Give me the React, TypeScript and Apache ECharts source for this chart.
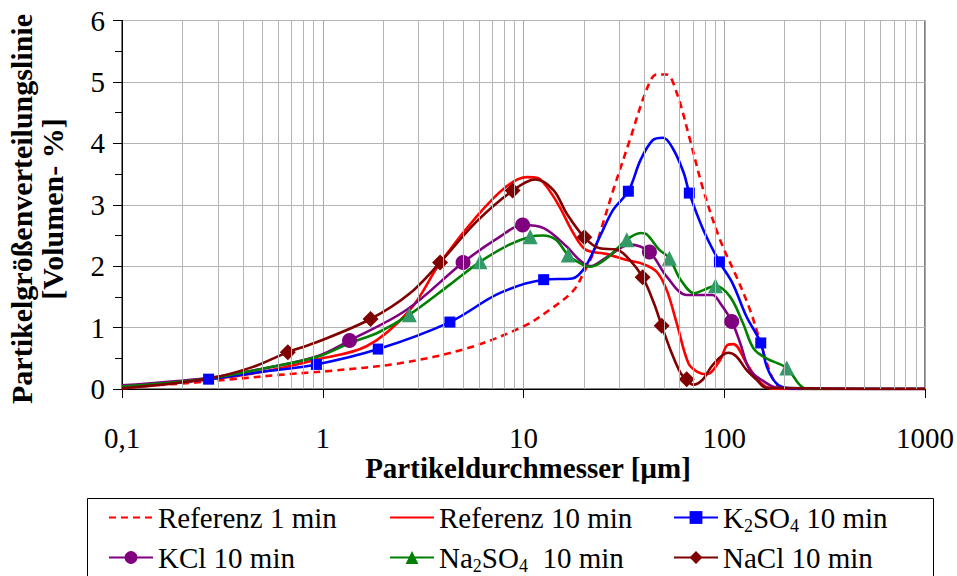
import React, { useEffect, useRef } from 'react';
import * as echarts from 'echarts';

const FONT = 'Liberation Serif, Times New Roman, serif';

// ---- data (x = Partikeldurchmesser µm, y = Volumen-%) ----
const ref1X = [0.1, 0.2, 0.357, 0.61, 1.13, 2.42, 5.21, 10, 13.5, 17.7, 20, 22.5, 25, 28, 33.9, 41.1, 46, 51.7, 58, 67.5, 78.7, 95.3, 115, 134, 150, 162, 178, 200, 1000];
const ref1Y = [0.03, 0.09, 0.16, 0.23, 0.3, 0.42, 0.66, 1.02, 1.29, 1.6, 1.9, 2.25, 2.72, 3.24, 4.06, 4.88, 5.12, 5.12, 4.82, 4.06, 3.24, 2.43, 1.83, 1.3, 0.8, 0.45, 0.12, 0, 0];

const ref10X = [0.1, 0.265, 0.5, 0.93, 1.66, 2.72, 3.84, 5.85, 8.24, 10.4, 11.7, 13.0, 15.1, 17.7, 20.4, 25.8, 32.6, 38.3, 46, 51.7, 58, 66.3, 73.5, 81.7, 95.3, 104, 111, 129, 145, 162, 180, 1000];
const ref10Y = [0.01, 0.15, 0.28, 0.48, 0.7, 1.29, 2.05, 2.81, 3.3, 3.45, 3.44, 3.3, 2.97, 2.54, 2.27, 2.2, 2.1, 2.05, 1.91, 1.61, 1.07, 0.42, 0.28, 0.24, 0.47, 0.72, 0.73, 0.42, 0.17, 0.03, 0, 0];

const k2so4X = [0.1, 0.27, 0.5, 0.93, 1.89, 4.3, 7.6, 12.6, 17.5, 20.4, 24, 28, 33.3, 38.3, 44, 49.6, 55.8, 62.8, 67, 78.7, 94.6, 110, 129, 152, 163, 182, 210, 250, 1000];
const k2so4Y = [0.03, 0.16, 0.28, 0.4, 0.65, 1.09, 1.56, 1.78, 1.8, 2.0, 2.48, 2.92, 3.22, 3.73, 4.05, 4.09, 3.9, 3.52, 3.19, 2.59, 2.07, 1.72, 1.18, 0.75, 0.36, 0.09, 0.01, 0, 0];
const k2so4Marks = [0.27, 0.93, 1.89, 4.3, 12.6, 33.3, 67, 94.6, 152];

const kclX = [0.1, 0.265, 0.5, 0.93, 1.36, 2.62, 5.0, 7.64, 9.9, 12.6, 16.4, 19, 21.5, 25.8, 33.9, 42.4, 51.7, 65.3, 87.5, 95.3, 109, 120, 134, 158, 185, 1000];
const kclY = [0.06, 0.18, 0.33, 0.53, 0.79, 1.29, 2.06, 2.48, 2.67, 2.62, 2.32, 2.1, 2.0, 2.14, 2.35, 2.23, 1.83, 1.53, 1.53, 1.4, 1.1, 0.75, 0.31, 0.12, 0.02, 0];
const kclMarks = [1.36, 5.0, 9.9, 42.4, 109];

const na2so4X = [0.1, 0.27, 0.5, 0.93, 1.36, 1.89, 2.7, 4.3, 6.07, 8.5, 10.8, 12.5, 14.5, 16.7, 19.8, 21.5, 25.8, 32.7, 38.3, 41, 47.4, 53.3, 60.6, 70.9, 78.7, 90.4, 107, 124, 140, 162, 205, 237, 260, 1000];
const na2so4Y = [0.04, 0.17, 0.33, 0.52, 0.745, 0.92, 1.21, 1.7, 2.07, 2.35, 2.48, 2.5, 2.43, 2.18, 2.02, 1.99, 2.12, 2.43, 2.54, 2.52, 2.27, 2.13, 1.78, 1.56, 1.61, 1.68, 1.5, 1.07, 0.66, 0.5, 0.34, 0.07, 0, 0];
const na2so4Marks = [2.7, 6.07, 10.8, 16.7, 32.7, 53.3, 90.4, 205];

const naclX = [0.1, 0.27, 0.45, 0.67, 0.93, 1.73, 2.7, 3.84, 5.85, 8.83, 11.5, 14.1, 16.4, 20.1, 24, 29.1, 33.9, 39.2, 44.6, 48.8, 53.9, 60.6, 65, 70, 78, 87.5, 104.7, 115, 129, 145, 162, 1000];
const naclY = [0.01, 0.17, 0.36, 0.6, 0.76, 1.14, 1.55, 2.06, 2.73, 3.23, 3.41, 3.24, 2.86, 2.47, 2.29, 2.27, 2.1, 1.82, 1.4, 1.03, 0.64, 0.26, 0.16, 0.07, 0.15, 0.39, 0.59, 0.53, 0.31, 0.15, 0.02, 0];
const naclMarks = [0.67, 1.73, 3.84, 8.83, 20.1, 39.2, 48.8, 65];

const seriesNames = ['Referenz 1 min', 'Referenz 10 min', 'K2SO4 10 min', 'KCl 10 min', 'Na2SO4  10 min', 'NaCl 10 min'];
const xTickValues = [0.1, 1, 10, 100, 1000];

function buildData(xs: number[], ys: number[], marks: number[] = [], markColor?: string) {
  return xs.map((x, i) => {
    if (marks.indexOf(x) >= 0) {
      return markColor ? { value: [x, ys[i]], itemStyle: { color: markColor } } : { value: [x, ys[i]] };
    }
    return { value: [x, ys[i]], symbol: 'none' };
  });
}

export default function App() {
  const ref = useRef<HTMLDivElement>(null);
  useEffect(() => {
    const chart = echarts.init(ref.current!, null, { renderer: 'svg' });

    const minorX: number[] = [];
    for (let d = 0; d < xTickValues.length - 1; d++) {
      for (let m = 2; m <= 9; m++) minorX.push(+(xTickValues[d] * m).toPrecision(6));
    }

    const lineBase = (name: string, color: string, xs: number[], ys: number[], symbol: string, symbolSize: number, marks: number[], extra: any = {}) => ({
      name,
      type: 'line',
      smooth: 0.35,
      data: buildData(xs, ys, marks, extra.markColor),
      symbol,
      symbolSize,
      showSymbol: true,
      showAllSymbol: true,
      color,
      itemStyle: { color },
      lineStyle: { color, width: 2.6, type: extra.lineType || 'solid' },
      emphasis: { disabled: true },
      z: 3,
    });

    const rich = {
      n: { fontFamily: FONT, fontSize: 29, color: '#000', lineHeight: 38 },
      s: { fontFamily: FONT, fontSize: 18, color: '#000', padding: [16, 0, 0, 0] },
    };
    const legendFormatter = (name: string) => {
      if (name === 'K2SO4 10 min') return '{n|K}{s|2}{n|SO}{s|4}{n| 10 min}';
      if (name === 'Na2SO4  10 min') return '{n|Na}{s|2}{n|SO}{s|4}{n|  10 min}';
      return '{n|' + name + '}';
    };
    const legendPos = [
      [108, 503], [389, 503], [673, 503],
      [108, 543], [389, 543], [673, 543],
    ];
    const noSymbol = [true, true, false, false, false, false];
    const legends = seriesNames.map((nm, i) => ({
      data: [nm],
      left: legendPos[i][0],
      top: legendPos[i][1],
      orient: 'horizontal',
      itemWidth: 44,
      itemHeight: 16,
      itemGap: 0,
      padding: 0,
      selectedMode: false,
      formatter: legendFormatter,
      itemStyle: noSymbol[i] ? { opacity: 0, color: 'rgba(0,0,0,0)', borderWidth: 0 } : {},
      textStyle: { fontFamily: FONT, fontSize: 29, color: '#000', rich },
    }));

    const option: any = {
      animation: false,
      backgroundColor: '#fff',
      textStyle: { fontFamily: FONT },
      grid: { left: 122, right: 31.5, top: 20.5, bottom: 187, show: true, borderColor: '#000', borderWidth: 1, backgroundColor: 'transparent' },
      legend: legends,
      xAxis: {
        type: 'log',
        logBase: 10,
        min: 0.1,
        max: 1000,
        axisLine: { show: true, lineStyle: { color: '#000', width: 1 } },
        axisTick: { show: true, inside: false, length: 9, lineStyle: { color: '#000' } },
        axisLabel: {
          fontFamily: FONT, fontSize: 29, color: '#000', margin: 34,
          formatter: (v: number) => String(parseFloat((+v).toPrecision(6))).replace('.', ','),
        },
        splitLine: { show: true, lineStyle: { color: '#a8a8a8', width: 1 } },
      },
      yAxis: {
        type: 'value',
        min: 0,
        max: 6,
        interval: 1,
        axisLine: { show: true, lineStyle: { color: '#000', width: 1 } },
        axisTick: { show: true, inside: false, length: 9, lineStyle: { color: '#000' } },
        minorTick: { show: true, splitNumber: 2, length: 7, lineStyle: { color: '#000' } },
        axisLabel: { fontFamily: FONT, fontSize: 29, color: '#000', margin: 17 },
        splitLine: { show: true, lineStyle: { color: '#b4b4b4', width: 1 } },
      },
      graphic: [
        {
          type: 'text',
          x: 37,
          y: 209,
          rotation: Math.PI / 2,
          style: {
            text: 'Partikelgrößenverteilungslinie\n[Volumen- %]',
            fontFamily: FONT,
            fontWeight: 'bold',
            fontSize: 30,
            lineHeight: 31,
            fill: '#000',
            align: 'center',
            verticalAlign: 'middle',
          },
        },
        {
          type: 'text',
          x: 528,
          y: 468,
          style: {
            text: 'Partikeldurchmesser [µm]',
            fontFamily: FONT,
            fontWeight: 'bold',
            fontSize: 29,
            fill: '#000',
            align: 'center',
            verticalAlign: 'middle',
          },
        },
        {
          type: 'rect',
          shape: { x: 87.5, y: 498.5, width: 846, height: 100 },
          style: { fill: 'none', stroke: '#000', lineWidth: 1 },
          silent: true,
        },
      ],
      series: [
        {
          name: 'minor-grid',
          type: 'line',
          data: [[0.1, 0]],
          symbol: 'none',
          lineStyle: { width: 0 },
          silent: true,
          z: 1,
          markLine: {
            silent: true,
            symbol: ['none', 'none'],
            label: { show: false },
            emphasis: { disabled: true },
            lineStyle: { color: '#b4b4b4', width: 1, type: 'solid' },
            data: minorX.map((v) => ({ xAxis: v })),
          },
        },
        lineBase('Referenz 1 min', '#ff0000', ref1X, ref1Y, 'none', 0, [], { lineType: [7, 5] }),
        lineBase('Referenz 10 min', '#ff0000', ref10X, ref10Y, 'none', 0, []),
        lineBase('K2SO4 10 min', '#0000ff', k2so4X, k2so4Y, 'rect', 11, k2so4Marks),
        lineBase('KCl 10 min', '#800080', kclX, kclY, 'circle', 15, kclMarks),
        lineBase('Na2SO4  10 min', '#008000', na2so4X, na2so4Y, 'triangle', 15, na2so4Marks, { markColor: '#339966' }),
        lineBase('NaCl 10 min', '#800000', naclX, naclY, 'diamond', 16, naclMarks),
      ],
    };
    chart.setOption(option);
    return () => chart.dispose();
  }, []);
  return <div ref={ref} style={{ position: 'fixed', left: 0, top: 0, width: 957, height: 576, background: '#fff' }} />;
}
